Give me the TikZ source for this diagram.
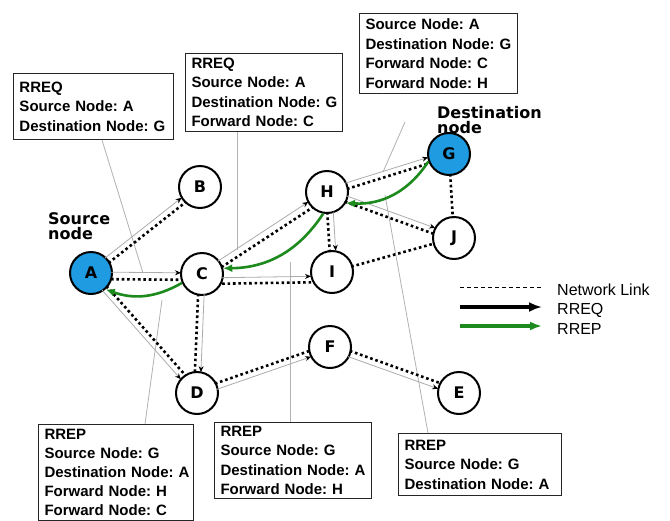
\documentclass[tikz,border=0pt]{standalone}
\usepackage{fontspec}
\setmainfont{Liberation Sans}
\newfontfamily\boxfont{Liberation Sans}
\newfontfamily\dvfont{DejaVu Sans}
\usetikzlibrary{calc,arrows.meta}
\definecolor{rrepgreen}{RGB}{28,138,28}
\definecolor{nodeblue}{RGB}{30,155,225}
\newcommand\lnkL[4]{\draw[#1] ($(#2)!#4!90:(#3)$) -- ($(#3)!#4!-90:(#2)$);}
\newcommand\lnkR[4]{\draw[#1] ($(#2)!#4!-90:(#3)$) -- ($(#3)!#4!90:(#2)$);}
\frenchspacing
\begin{document}
\begin{tikzpicture}[x=1pt,y=-1pt,
 netnode/.style={circle,draw=black,line width=2pt,minimum size=42pt,inner sep=0pt,fill=white,font=\dvfont\bfseries\fontsize{16}{16}\selectfont},
 srcnode/.style={netnode,fill=nodeblue},
 netdot/.style={line width=2.6pt,dash pattern=on 2.6pt off 2.8pt,shorten <=20pt,shorten >=20pt},
 rreqline/.style={draw=gray!65,line width=0.8pt,-{Stealth[length=6pt,width=5pt,black]},shorten <=20pt,shorten >=21pt},
 rrep/.style={draw=rrepgreen,line width=2.6pt,-{Latex[length=9pt,width=8pt]}},
 ptr/.style={draw=gray!60,line width=0.8pt},
 infobox/.style={draw=black!85,line width=1pt,fill=white,anchor=north west,align=left,inner xsep=6pt,inner ysep=3pt,font=\boxfont\bfseries\fontsize{15}{19.5}\selectfont},
 sidelabel/.style={anchor=north west,align=left,inner sep=0pt,font=\dvfont\bfseries\fontsize{16}{15}\selectfont},
 legtext/.style={anchor=west,inner sep=0pt,font=\boxfont\fontsize{16}{16}\selectfont}
]
\useasboundingbox[fill=white] (0,0) rectangle (670,520);

% pointer coordinates
\coordinate (p1) at (143,273);
\coordinate (p2) at (237,250);
\coordinate (p3a) at (405,122);
\coordinate (p3b) at (383,172);
\coordinate (p4) at (162,300);
\coordinate (p5) at (290,262);
\coordinate (p6) at (385,195);

% boxes
\node[infobox,text width=148pt,minimum height=66pt] (b1) at (13,73)
 {\mbox{RREQ}\\\mbox{Source Node: A}\\\mbox{Destination Node: G}};
\node[infobox,text width=145pt,minimum height=78pt] (b2) at (185,53)
 {\mbox{RREQ}\\\mbox{Source Node: A}\\\mbox{Destination Node: G}\\\mbox{Forward Node: C}};
\node[infobox,text width=146pt,minimum height=80pt] (b3) at (359,13)
 {\mbox{Source Node: A}\\\mbox{Destination Node: G}\\\mbox{Forward Node: C}\\\mbox{Forward Node: H}};
\node[infobox,text width=143pt,minimum height=96pt,font=\boxfont\bfseries\fontsize{15}{19}\selectfont] (b4) at (38,424)
 {\mbox{RREP}\\\mbox{Source Node: G}\\\mbox{Destination Node: A}\\\mbox{Forward Node: H}\\\mbox{Forward Node: C}};
\node[infobox,text width=145pt,minimum height=76pt] (b5) at (214,422)
 {\mbox{RREP}\\\mbox{Source Node: G}\\\mbox{Destination Node: A}\\\mbox{Forward Node: H}};
\node[infobox,text width=151pt,minimum height=62pt] (b6) at (398,433)
 {\mbox{RREP}\\\mbox{Source Node: G}\\\mbox{Destination Node: A}};

% pointer lines
\draw[ptr] ([xshift=89pt]b1.south west) -- (p1);
\draw[ptr] ([xshift=52pt]b2.south west) -- (p2);
\draw[ptr] (p3a) -- (p3b);
\draw[ptr] ([xshift=107pt]b4.north west) -- (p4);
\draw[ptr] ([xshift=76pt]b5.north west) -- (p5);
\draw[ptr] ([xshift=30pt]b6.north west) -- (p6);

% network nodes
\node[srcnode] (A) at (91,273) {A};
\node[netnode] (B) at (200,187) {B};
\node[netnode] (C) at (202,274) {C};
\node[netnode] (D) at (197,393) {D};
\node[netnode] (F) at (330,347) {F};
\node[netnode] (E) at (459,393) {E};
\node[netnode] (H) at (327,192) {H};
\node[netnode] (I) at (332,272) {I};
\node[netnode] (J) at (454,238) {J};
\node[srcnode] (G) at (449,154) {G};

\node[sidelabel] (srclab) at (48,212) {Source\\node};
\node[sidelabel] (dstlab) at (437,106) {Destination\\node};

% links
\lnkL{rreqline}{A}{B}{3pt} \lnkR{netdot}{A}{B}{3pt}
\lnkL{rreqline}{A}{C}{1pt} \lnkR{netdot}{A}{C}{6pt}
\lnkL{netdot}{A}{D}{3pt} \lnkR{rreqline}{A}{D}{3pt}
\lnkL{rreqline}{C}{H}{2pt} \lnkR{netdot}{C}{H}{5pt}
\lnkR{rreqline}{C}{I}{4pt} \lnkR{netdot}{C}{I}{10pt}
\lnkL{rreqline}{C}{D}{3pt} \lnkR{netdot}{C}{D}{3pt}
\lnkL{netdot}{D}{F}{3pt} \lnkR{rreqline}{D}{F}{3pt}
\lnkL{netdot}{F}{E}{3pt} \lnkR{rreqline}{F}{E}{3pt}
\lnkL{rreqline}{H}{G}{3pt} \lnkR{netdot}{H}{G}{3pt}
\lnkL{rreqline}{H}{J}{3pt} \lnkR{netdot}{H}{J}{3pt}
\lnkL{rreqline}{H}{I}{5pt} \lnkR{netdot}{H}{I}{1pt}
\draw[netdot] (G.center) -- (J.center);
\draw[netdot] (I.center) -- (J.center);

% RREP route
\draw[rrep] (G.-160) to[bend left=30] (H.-30);
\draw[rrep] (H.-100) to[bend left=28] (C.15);
\draw[rrep] (C.204) to[bend left=25] (A.-48);

% legend
\coordinate (l1a) at (460,287); \coordinate (l1b) at (543,287);
\coordinate (l2a) at (460,307); \coordinate (l2b) at (542,307);
\coordinate (l3a) at (460,326); \coordinate (l3b) at (542,326);
\draw[line width=1pt,dash pattern=on 4pt off 3pt] (l1a) -- (l1b);
\draw[line width=3.2pt,-{Latex[length=13pt,width=10pt]}] (l2a) -- (l2b);
\draw[rrepgreen,line width=3.4pt,-{Latex[length=12pt,width=9pt]}] (l3a) -- (l3b);
\node[legtext] (lt1) at (557,290) {Network Link};
\node[legtext] (lt2) at (557,310) {RREQ};
\node[legtext] (lt3) at (557,329) {RREP};
\end{tikzpicture}
\end{document}
